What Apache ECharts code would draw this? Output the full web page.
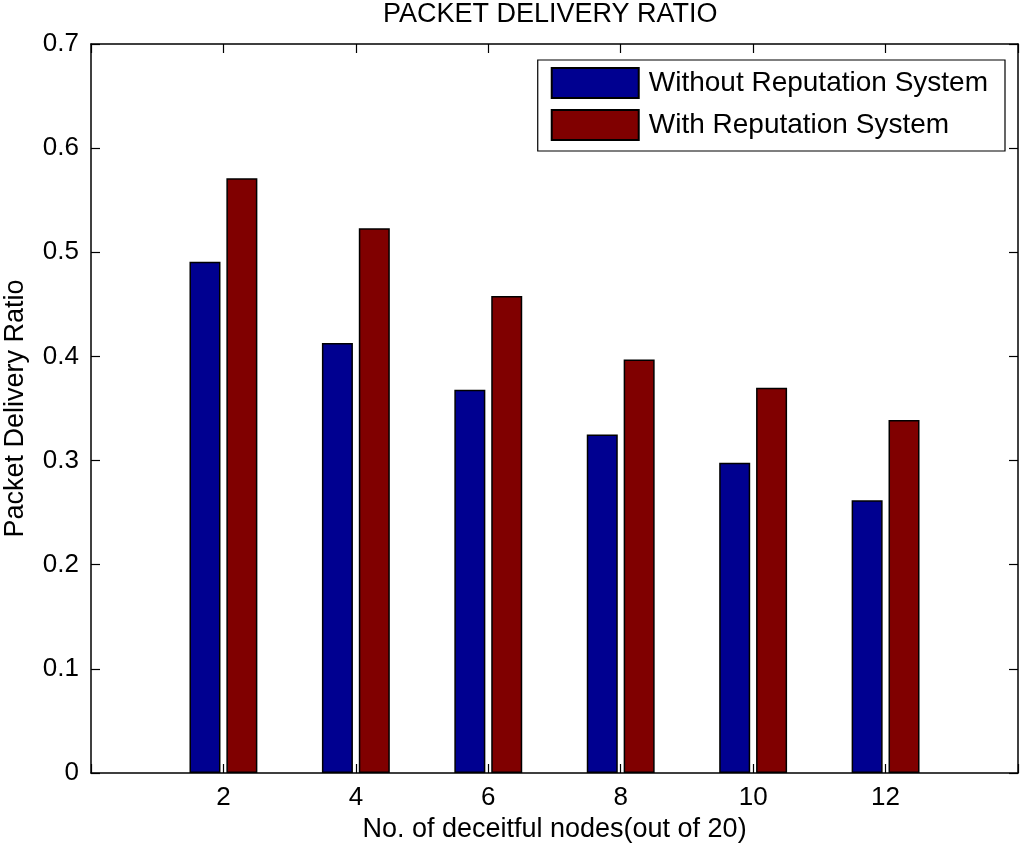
<!DOCTYPE html>
<html>
<head>
<meta charset="utf-8">
<script src="https://cdn.jsdelivr.net/npm/echarts@6/dist/echarts.min.js"></script>
<style>html,body{margin:0;padding:0;background:#fff}#c{width:1021px;height:850px}</style>
</head>
<body>
<div id="c"></div>
<script>
var categories = [2, 4, 6, 8, 10, 12];
var withoutRep = [0.491, 0.413, 0.368, 0.325, 0.298, 0.262];
var withRep = [0.571, 0.523, 0.458, 0.397, 0.370, 0.339];
var seriesNames = ['Without Reputation System', 'With Reputation System'];
var titleText = 'PACKET DELIVERY RATIO';
var xName = 'No. of deceitful nodes(out of 20)';
var yName = 'Packet Delivery Ratio';

var font = 'Liberation Sans, Arial, Helvetica, sans-serif';
function pairs(vals) { return categories.map(function (c, i) { return [c, vals[i]]; }); }

var axisLine = { show: true, onZero: false, lineStyle: { color: '#000', width: 1.5 } };
var tick = { show: true, inside: true, length: 9, lineStyle: { color: '#000', width: 1.2 } };

var chart = echarts.init(document.getElementById('c'));
chart.setOption({
  animation: false,
  backgroundColor: '#fff',
  grid: { left: 91, right: 3, top: 44, bottom: 77, containLabel: false, outerBoundsMode: 'none' },
  graphic: [{
    type: 'text', left: 383, top: 1,
    style: { text: titleText, font: '27px ' + font, fill: '#000' }
  }],
  legend: {
    orient: 'vertical', right: 16, top: 60,
    itemWidth: 87, itemHeight: 30, itemGap: 10,
    padding: [7, 17, 10, 13],
    borderColor: '#000', borderWidth: 1.2, backgroundColor: '#fff',
    textStyle: { fontFamily: font, fontSize: 28, color: '#000', padding: [0, 0, 0, 5] },
    icon: 'rect',
    data: seriesNames
  },
  xAxis: [{
    type: 'value', min: 0, max: 14, interval: 2, position: 'bottom',
    name: xName, nameLocation: 'middle', nameGap: 35,
    nameTextStyle: { fontFamily: font, fontSize: 27, color: '#000' },
    axisLine: axisLine, axisTick: tick,
    axisLabel: {
      fontFamily: font, fontSize: 26, color: '#000', margin: 12,
      formatter: function (v) { return (v === 0 || v === 14) ? '' : String(v); }
    },
    splitLine: { show: false }
  }, {
    type: 'value', min: 0, max: 14, interval: 2, position: 'top',
    axisLine: axisLine, axisTick: tick, axisLabel: { show: false }, splitLine: { show: false }
  }],
  yAxis: [{
    type: 'value', min: 0, max: 0.7, interval: 0.1, position: 'left',
    name: yName, nameLocation: 'middle', nameGap: 62, nameRotate: 90,
    nameTextStyle: { fontFamily: font, fontSize: 27, color: '#000' },
    axisLine: axisLine, axisTick: tick,
    axisLabel: { fontFamily: font, fontSize: 26, color: '#000', margin: 12,
      formatter: function (v) { return v === 0 ? '0' : v.toFixed(1); } },
    splitLine: { show: false }
  }, {
    type: 'value', min: 0, max: 0.7, interval: 0.1, position: 'right',
    axisLine: axisLine, axisTick: tick, axisLabel: { show: false }, splitLine: { show: false }
  }],
  series: [{
    name: seriesNames[0], type: 'bar', xAxisIndex: 0, yAxisIndex: 0,
    barWidth: 31, barGap: '19%',
    itemStyle: { color: '#000090', borderColor: '#000', borderWidth: 1.5 },
    data: pairs(withoutRep)
  }, {
    name: seriesNames[1], type: 'bar', xAxisIndex: 0, yAxisIndex: 0,
    barWidth: 31, barGap: '19%',
    itemStyle: { color: '#800000', borderColor: '#000', borderWidth: 1.5 },
    data: pairs(withRep)
  }]
});
</script>
</body>
</html>
